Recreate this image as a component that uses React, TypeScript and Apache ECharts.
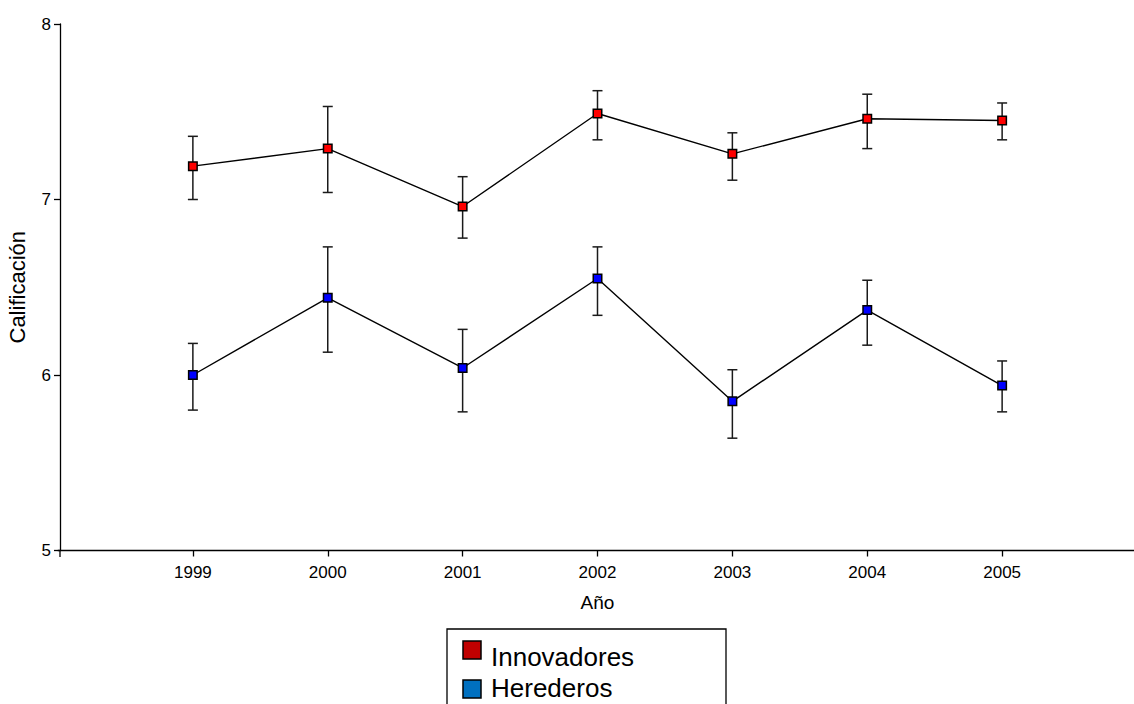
import React, { useEffect, useRef } from "react";
import * as echarts from "echarts";

const years = [1999, 2000, 2001, 2002, 2003, 2004, 2005];
const innovMean = [7.19, 7.29, 6.96, 7.49, 7.26, 7.46, 7.45];
const innovLow = [7.0, 7.04, 6.78, 7.34, 7.11, 7.29, 7.34];
const innovHigh = [7.36, 7.53, 7.13, 7.62, 7.38, 7.6, 7.55];
const heredMean = [6.0, 6.44, 6.04, 6.55, 5.85, 6.37, 5.94];
const heredLow = [5.8, 6.13, 5.79, 6.34, 5.64, 6.17, 5.79];
const heredHigh = [6.18, 6.73, 6.26, 6.73, 6.03, 6.54, 6.08];
const seriesNames = ["Innovadores", "Herederos"];
const yTicks = [5, 6, 7, 8];

const FONT = "'Liberation Sans', Arial, sans-serif";

function errorSeries(low: number[], high: number[]) {
  return {
    type: "custom",
    silent: true,
    z: 1,
    data: years.map((y, i) => [y, low[i], high[i]]),
    encode: { x: 0, y: [1, 2] },
    renderItem: (params: any, api: any) => {
      const x = api.value(0);
      const lo = api.coord([x, api.value(1)]);
      const hi = api.coord([x, api.value(2)]);
      const hw = 5;
      const style = { stroke: "#1a1a1a", lineWidth: 1.5, fill: "none" };
      return {
        type: "group",
        children: [
          { type: "line", shape: { x1: lo[0], y1: lo[1], x2: hi[0], y2: hi[1] }, style },
          { type: "line", shape: { x1: lo[0] - hw, y1: lo[1], x2: lo[0] + hw, y2: lo[1] }, style },
          { type: "line", shape: { x1: hi[0] - hw, y1: hi[1], x2: hi[0] + hw, y2: hi[1] }, style },
        ],
      };
    },
  };
}

function lineSeries(name: string, mean: number[], color: string) {
  return {
    type: "line",
    name,
    z: 3,
    data: years.map((y, i) => [y, mean[i]]),
    symbol: "rect",
    symbolSize: 8.5,
    lineStyle: { color: "#000", width: 1.4 },
    itemStyle: { color, borderColor: "#000", borderWidth: 1.5 },
  };
}

export default function App() {
  const ref = useRef<HTMLDivElement>(null);
  useEffect(() => {
    if (!ref.current) return;
    const chart = echarts.init(ref.current, null, { renderer: "svg" });
    chart.setOption({
      animation: false,
      backgroundColor: "#fff",
      grid: {
        left: 58,
        top: 24,
        width: 1079,
        height: 526.5,
        containLabel: false,
        outerBoundsMode: "none",
      },
      xAxis: {
        type: "value",
        min: 1998,
        max: 2006,
        interval: 1,
        name: "Año",
        nameLocation: "middle",
        nameGap: 42,
        nameTextStyle: { color: "#000", fontSize: 19, fontFamily: FONT },
        axisLine: { lineStyle: { color: "#000", width: 1.3 } },
        axisTick: {
          length: 6,
          customValues: years,
          lineStyle: { color: "#000", width: 1.3 },
        },
        axisLabel: {
          color: "#000",
          fontSize: 17,
          fontFamily: FONT,
          margin: 13,
          customValues: years,
          formatter: (v: number) => (years.indexOf(v) >= 0 ? String(v) : ""),
        },
        splitLine: { show: false },
      },
      yAxis: {
        type: "value",
        min: yTicks[0],
        max: yTicks[yTicks.length - 1],
        interval: 1,
        offset: -2,
        name: "Calificación",
        nameLocation: "middle",
        nameGap: 32,
        nameTextStyle: { color: "#000", fontSize: 22, fontFamily: FONT },
        axisLine: { show: true, lineStyle: { color: "#000", width: 1.3 } },
        axisTick: { show: true, length: 6, lineStyle: { color: "#000", width: 1.3 } },
        axisLabel: { color: "#000", fontSize: 17, fontFamily: FONT, margin: 9 },
        splitLine: { show: false },
      },
      series: [
        errorSeries(innovLow, innovHigh),
        errorSeries(heredLow, heredHigh),
        lineSeries(seriesNames[0], innovMean, "#ff0000"),
        lineSeries(seriesNames[1], heredMean, "#0000ff"),
      ],
      graphic: [
        {
          type: "line",
          shape: { x1: 60, y1: 550, x2: 60, y2: 557 },
          style: { stroke: "#000", lineWidth: 1.3 },
        },
        {
          type: "rect",
          shape: { x: 447, y: 629, width: 279, height: 90 },
          style: { fill: "#fff", stroke: "#000", lineWidth: 1.3 },
        },
        {
          type: "rect",
          shape: { x: 463, y: 641, width: 18, height: 18 },
          style: { fill: "#c00000", stroke: "#000", lineWidth: 1.5 },
        },
        {
          type: "text",
          x: 491,
          y: 656.5,
          style: {
            text: seriesNames[0],
            fill: "#000",
            font: `26px ${FONT}`,
            verticalAlign: "middle",
          },
        },
        {
          type: "rect",
          shape: { x: 463, y: 680, width: 18, height: 18 },
          style: { fill: "#0070c0", stroke: "#000", lineWidth: 1.5 },
        },
        {
          type: "text",
          x: 491,
          y: 687.5,
          style: {
            text: seriesNames[1],
            fill: "#000",
            font: `26px ${FONT}`,
            verticalAlign: "middle",
          },
        },
      ],
    });
    return () => chart.dispose();
  }, []);
  return <div ref={ref} style={{ position: "fixed", left: 0, top: 0, width: 1134, height: 704 }} />;
}
